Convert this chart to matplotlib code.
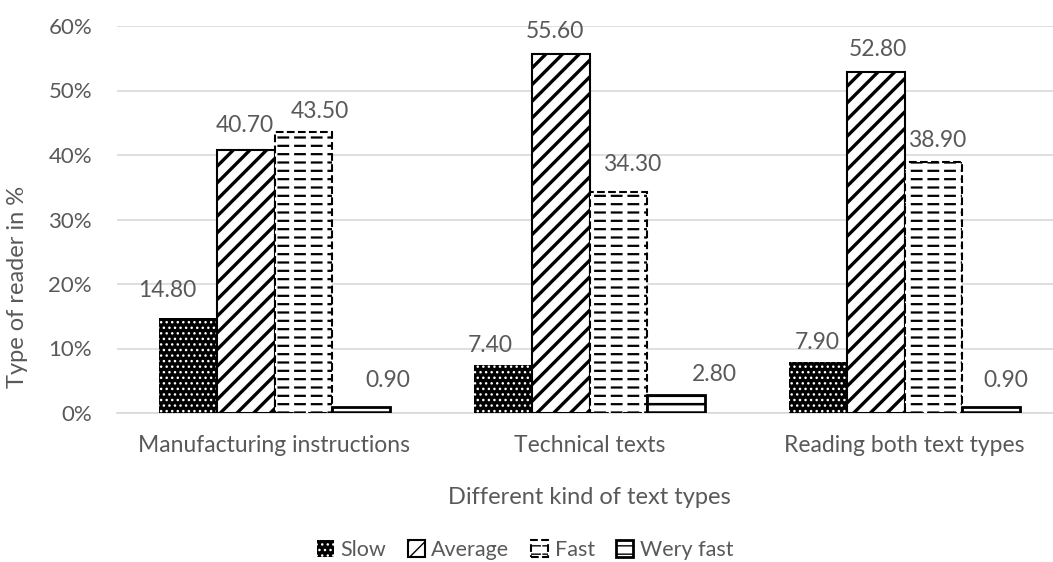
import numpy as np
import matplotlib.pyplot as plt

# chart data
categories = ['Manufacturing instructions', 'Technical texts', 'Reading both text types']
series_names = ['Slow', 'Average', 'Fast', 'Wery fast']
slow = [14.80, 7.40, 7.90]
average = [40.70, 55.60, 52.80]
fast = [43.50, 34.30, 38.90]
very_fast = [0.90, 2.80, 0.90]
y_ticks = [0, 10, 20, 30, 40, 50, 60]

series_values = [slow, average, fast, very_fast]

# Excel pattern fills approximated with hatches; each series is a stack of layers
layers = [
    [dict(facecolor='black', edgecolor='white', hatch='...', hatch_lw=1.0, lw=0.0, ls='-')],
    [dict(facecolor='white', edgecolor='black', hatch='//', hatch_lw=2.4, lw=1.5, ls='-')],
    [dict(facecolor='white', edgecolor='black', hatch='--', hatch_lw=1.6, lw=0.0, ls='-'),
     # white stripes cut the horizontal lines into dashes
     dict(facecolor='none', edgecolor='white', hatch='|', hatch_lw=3.5, lw=0.0, ls='-'),
     dict(facecolor='none', edgecolor='black', hatch=None, hatch_lw=1.0, lw=1.5, ls='--')],
    [dict(facecolor='white', edgecolor='black', hatch='--', hatch_lw=1.8, lw=2.0, ls='-')],
]

# label nudges in pixels (Excel moved some labels to avoid overlap)
label_dx = [[-20, -12, 0], [-1, -6, 2], [16, 14, 4], [26, 38, 14]]
label_dy = [[27, 20, 20], [25, 23, 23], [21, 27, 22], [27, 20, 27]]

TEXT = '#595959'
GRID = '#d9d9d9'
plt.rcParams['font.family'] = ['Lato', 'DejaVu Sans']

fig = plt.figure(figsize=(10.53, 5.62), dpi=100)
ax = fig.add_axes([117 / 1053, 1 - 413 / 562, 945 / 1053, 387 / 562])

x = np.arange(len(categories))
width = 0.184

handles = []
for i, (name, vals, stack) in enumerate(zip(series_names, series_values, layers)):
    pos = x + (i - 1.5) * width
    parts = []
    for k, st in enumerate(stack):
        with plt.rc_context({'hatch.linewidth': st['hatch_lw']}):
            bars = ax.bar(pos, vals, width, facecolor=st['facecolor'],
                          edgecolor=st['edgecolor'], hatch=st['hatch'],
                          linewidth=st['lw'], linestyle=st['ls'], zorder=3 + k * 0.1)
        parts.append(bars)
    handles.append(parts[0] if len(parts) == 1 else tuple(parts))
    for j, v in enumerate(vals):
        ax.annotate(f'{v:.2f}', (pos[j], v),
                    xytext=(label_dx[i][j], label_dy[i][j]), textcoords='offset pixels',
                    ha='center', va='center', fontsize=16.5, color=TEXT, zorder=4)

ax.set_xlim(-0.5, len(categories) - 0.5)
ax.set_ylim(0, 60)
ax.set_yticks(y_ticks)
ax.set_yticklabels([f'{t}%' for t in y_ticks])
ax.set_xticks(x)
ax.set_xticklabels(categories)
ax.tick_params(axis='both', length=0, colors=TEXT, labelsize=16)
ax.tick_params(axis='x', labelsize=16.5, pad=16)
ax.tick_params(axis='y', pad=18)
ax.grid(axis='y', color=GRID, linewidth=1.2, zorder=0)
ax.set_axisbelow(True)
for side in ['top', 'right', 'left']:
    ax.spines[side].set_visible(False)
ax.spines['bottom'].set_color(GRID)
ax.spines['bottom'].set_linewidth(1.2)

ax.set_xlabel('Different kind of text types', fontsize=17, color=TEXT, labelpad=22)
ax.set_ylabel('Type of reader in %', fontsize=17, color=TEXT)
ax.yaxis.set_label_coords(-0.094, 0.326)

leg = fig.legend(handles, series_names, loc='center',
                 bbox_to_anchor=(525 / 1053, 1 - 550 / 562), ncol=4,
                 frameon=False, fontsize=15.5, handlelength=0.8, handleheight=0.8,
                 handletextpad=0.3, columnspacing=1.0)
for t in leg.get_texts():
    t.set_color(TEXT)

fig.savefig('out.png', dpi=100)
